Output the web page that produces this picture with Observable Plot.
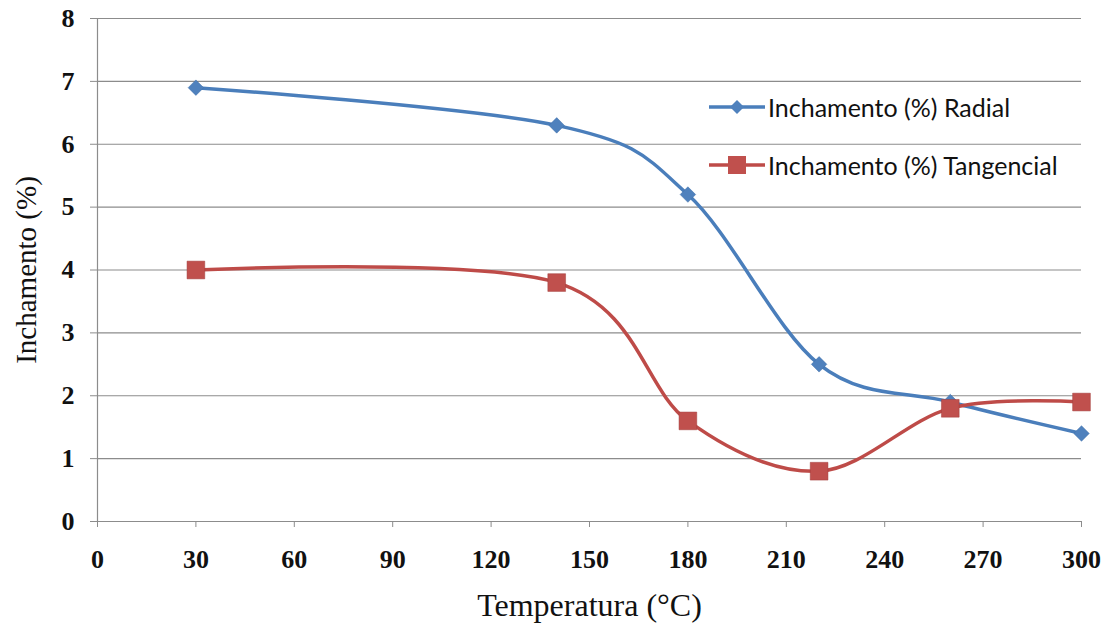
<!DOCTYPE html>
<html>
<head>
<meta charset="utf-8">
<script src="https://cdn.jsdelivr.net/npm/d3@7"></script>
<script src="https://cdn.jsdelivr.net/npm/@observablehq/plot@0.6"></script>
<style>
  body { margin: 0; background: #fff; }
  #wrap { position: relative; width: 1112px; height: 629px; }
  #legend { position: absolute; left: 709px; top: 92px; font-family: Lato, "Open Sans", sans-serif; font-size: 25px; color: #111; }
  #legend .row { display: flex; align-items: center; height: 30px; margin-bottom: 28px; }
  #legend svg { margin-right: 3px; }
</style>
</head>
<body>
<div id="wrap"><div id="legend"></div></div>
<script>
const temperatures = [30, 140, 180, 220, 260, 300];
const radial = [6.9, 6.3, 5.2, 2.5, 1.9, 1.4];
const tangencial = [4.0, 3.8, 1.6, 0.8, 1.8, 1.9];
const seriesNames = ["Inchamento (%) Radial", "Inchamento (%) Tangencial"];
const xTicks = [0, 30, 60, 90, 120, 150, 180, 210, 240, 270, 300];
const yTicks = [0, 1, 2, 3, 4, 5, 6, 7, 8];
const colors = ["#4A7EBB", "#BE4B48"];
const markerFill = ["#4F81BD", "#C0504D"];

const rows = [];
temperatures.forEach((t, i) => rows.push({series: seriesNames[0], x: t, y: radial[i]}));
temperatures.forEach((t, i) => rows.push({series: seriesNames[1], x: t, y: tangencial[i]}));
const rad = rows.filter(d => d.series === seriesNames[0]);
const tan = rows.filter(d => d.series === seriesNames[1]);

const serif = "'Liberation Serif', 'Times New Roman', serif";

const chart = Plot.plot({
  width: 1112,
  height: 629,
  marginLeft: 97,
  marginRight: 31,
  marginTop: 18,
  marginBottom: 108,
  style: {fontFamily: serif, background: "#fff", overflow: "visible"},
  x: {domain: [0, 300]},
  y: {domain: [0, 8]},
  marks: [
    Plot.ruleY(yTicks, {stroke: "#8c8c8c", strokeWidth: 1.2}),
    Plot.ruleX([0], {stroke: "#8c8c8c", strokeWidth: 1.2}),
    Plot.axisX({ticks: xTicks, tickFormat: d => d, tickSize: 6, tickPadding: 22, stroke: "#8c8c8c", fontSize: 26, fontWeight: "bold", fill: "#111", label: null}),
    Plot.axisY({ticks: yTicks, tickFormat: d => d, tickSize: 7, tickPadding: 16, stroke: "#8c8c8c", fontSize: 26, fontWeight: "bold", fill: "#111", label: null}),
    Plot.text(["Temperatura (°C)"], {frameAnchor: "bottom", dy: 84, lineAnchor: "middle", textAnchor: "middle", fontSize: 32, fill: "#111", fontFamily: serif, stroke: null}),
    Plot.text(["Inchamento (%)"], {frameAnchor: "left", dx: -71, rotate: -90, lineAnchor: "middle", textAnchor: "middle", fontSize: 29, fill: "#111", fontFamily: serif}),
    Plot.line(rad, {x: "x", y: "y", curve: "cardinal", stroke: colors[0], strokeWidth: 3.5}),
    Plot.line(tan, {x: "x", y: "y", curve: "cardinal", stroke: colors[1], strokeWidth: 3.5}),
    Plot.dot(rad, {x: "x", y: "y", symbol: "diamond2", r: 7, fill: markerFill[0], stroke: "#3f6fa8", strokeWidth: 0.5}),
    Plot.dot(tan, {x: "x", y: "y", symbol: "square", r: 10, fill: markerFill[1], stroke: "#a33f3c", strokeWidth: 0.5})
  ]
});
document.getElementById("wrap").prepend(chart);

// legend
const legend = d3.select("#legend");
seriesNames.forEach((name, i) => {
  const row = legend.append("div").attr("class", "row");
  const s = row.append("svg").attr("width", 56).attr("height", 22);
  s.append("line").attr("x1", 0).attr("x2", 56).attr("y1", 11).attr("y2", 11).attr("stroke", colors[i]).attr("stroke-width", 3.5);
  if (i === 0) {
    s.append("path").attr("d", "M28,4 L35,11 L28,18 L21,11 Z").attr("fill", markerFill[0]);
  } else {
    s.append("rect").attr("x", 19).attr("y", 2).attr("width", 18).attr("height", 18).attr("fill", markerFill[1]);
  }
  row.append("span").text(name);
});
</script>
</body>
</html>
